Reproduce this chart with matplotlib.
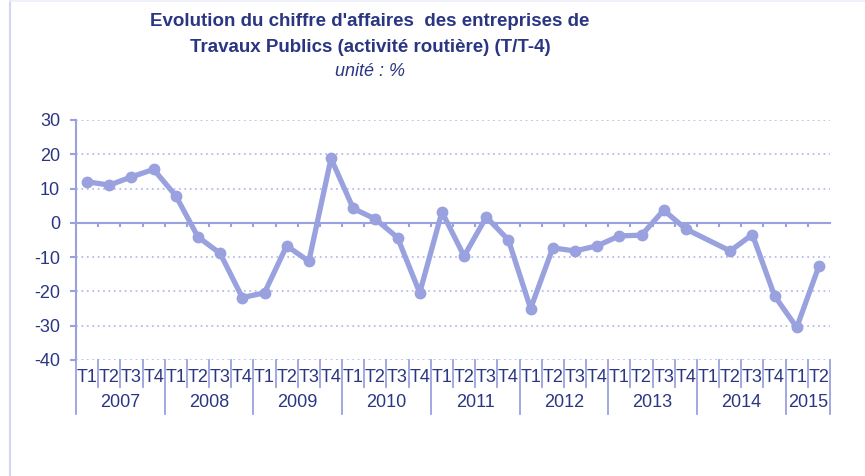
import matplotlib
matplotlib.use("Agg")
import matplotlib.pyplot as plt
import matplotlib.transforms as mtransforms
import numpy as np

plt.rcParams['font.family'] = ['Liberation Sans', 'DejaVu Sans']

# data
years = ["2007", "2008", "2009", "2010", "2011", "2012", "2013", "2014", "2015"]
quarters_per_year = [4, 4, 4, 4, 4, 4, 4, 4, 2]
values = [12.0, 11.0, 13.4, 15.6,
          7.9, -4.1, -8.9, -21.8,
          -20.4, -6.7, -11.2, 18.8,
          4.2, 1.1, -4.3, -20.4,
          3.2, -9.7, 1.7, -5.0,
          -25.0, -7.3, -8.2, -6.7,
          -3.8, -3.6, 3.7, -1.8,
          np.nan, -8.2, -3.4, -21.3,
          -30.5, -12.6]
yticks = [30, 20, 10, 0, -10, -20, -30, -40]

quarter_labels = []
for n in quarters_per_year:
    quarter_labels += ["T%d" % (q + 1) for q in range(n)]

line_col = '#99A1DE'
grid_col = '#B9BDEB'
text_col = '#2B3683'

W, H = 865, 476
fig = plt.figure(figsize=(W / 100, H / 100), dpi=100)
ax = fig.add_axes([76 / W, 1 - 360 / H, (830 - 76) / W, (360 - 120) / H])

x = np.arange(len(values))
v = np.array(values)
ok = ~np.isnan(v)
ax.plot(x[ok], v[ok], color=line_col, linewidth=3.8, marker='o',
        markersize=7.5, zorder=3, solid_capstyle='round')

ax.set_xlim(-0.5, len(values) - 0.5)
ax.set_ylim(-40, 30)
ax.set_yticks(yticks)
ax.set_yticklabels([str(t) for t in yticks])
for t in yticks:
    if t != 0:
        ax.axhline(t, color=grid_col, linestyle=(0, (1, 2)), linewidth=1.3, zorder=1)

for s in ['top', 'right']:
    ax.spines[s].set_visible(False)
ax.spines['left'].set_color(line_col)
ax.spines['left'].set_linewidth(1.5)
ax.spines['bottom'].set_position(('data', 0))
ax.spines['bottom'].set_color(line_col)
ax.spines['bottom'].set_linewidth(1.5)

ax.tick_params(axis='y', direction='out', length=4.5, width=1.5, color=line_col,
               labelcolor=text_col, labelsize=13, pad=7)
ax.set_xticks(np.arange(0.5, len(values) - 0.5))
ax.tick_params(axis='x', direction='out', length=3, width=1.5, color=line_col,
               labelbottom=False)

# category labels below the plot
trans = mtransforms.blended_transform_factory(ax.transData, ax.transAxes)
for i, lab in enumerate(quarter_labels):
    ax.text(i, -0.071, lab, transform=trans, ha='center', va='center',
            fontsize=13, color=text_col)

start = 0
bounds = [-0.5]
for yr, n in zip(years, quarters_per_year):
    ax.text(start + (n - 1) / 2, -0.179, yr, transform=trans, ha='center',
            va='center', fontsize=13, color=text_col)
    start += n
    bounds.append(start - 0.5)

for b in np.arange(-0.5, len(values)):
    long_line = b in bounds
    ax.plot([b, b], [0, -0.225 if long_line else -0.1125], transform=trans,
            color=line_col, linewidth=1.3, clip_on=False, zorder=2)

# titles
fig.text(370 / W, 1 - 22 / H, "Evolution du chiffre d'affaires  des entreprises de",
         ha='center', va='center', fontsize=13.5, fontweight='bold', color=text_col)
fig.text(370 / W, 1 - 47 / H, "Travaux Publics (activité routière) (T/T-4)",
         ha='center', va='center', fontsize=13.5, fontweight='bold', color=text_col)
fig.text(370 / W, 1 - 72 / H, "unité : %", ha='center', va='center',
         fontsize=13, style='italic', color=text_col)

# chart frame
fig.add_artist(plt.Line2D([10 / W, 10 / W], [0, 1], transform=fig.transFigure,
                          color='#D3D6F3', linewidth=1.5))
fig.add_artist(plt.Line2D([10 / W, 1], [1 - 1 / H, 1 - 1 / H], transform=fig.transFigure,
                          color='#ECEDF8', linewidth=1.2))

fig.savefig('out.png', dpi=100)
